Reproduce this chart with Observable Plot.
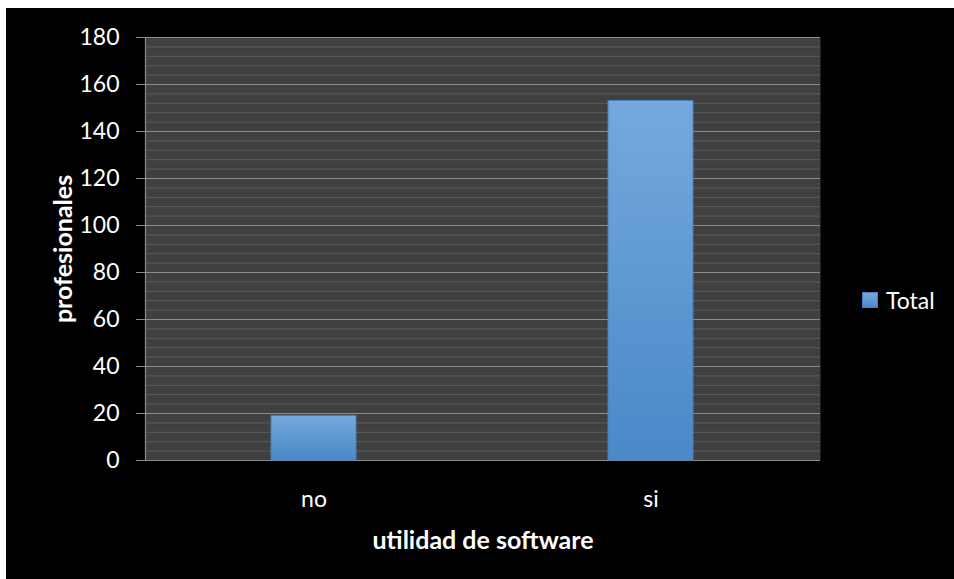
<!DOCTYPE html>
<html>
<head>
<meta charset="utf-8">
<script src="https://cdn.jsdelivr.net/npm/d3@7"></script>
<script src="https://cdn.jsdelivr.net/npm/@observablehq/plot@0.6"></script>
<style>
  html, body { margin: 0; padding: 0; background: #ffffff; }
  #panel {
    position: absolute; left: 6px; top: 8px; width: 948px; height: 571px;
    background: #000000; font-family: Lato, "Open Sans", sans-serif; color: #ffffff;
  }
  #chart { position: absolute; left: 0; top: 0; }
  #legend {
    position: absolute; left: 856px; top: 278px; display: flex; align-items: center;
    font-size: 23px; color: #ffffff;
  }
  #legend .swatch {
    width: 14px; height: 14px; margin-right: 8px;
    background: linear-gradient(#74a9dd, #4b89c9); border: 1px solid #4a7ebb;
  }
</style>
</head>
<body>
<div id="panel">
  <div id="chart"></div>
  <div id="legend"><span class="swatch"></span><span>Total</span></div>
</div>
<script>
// Respuestas: ¿le resulta útil el software?
const categories = ["no", "si"];
const totals = [19, 153];
const majorTicks = [0, 20, 40, 60, 80, 100, 120, 140, 160, 180];
const minorTicks = d3.range(0, 181, 4).filter(v => v % 20 !== 0);

const data = categories.map((c, i) => ({categoria: c, total: totals[i]}));

const chart = Plot.plot({
  width: 948,
  height: 571,
  marginLeft: 139,
  marginRight: 134,
  marginTop: 29,
  marginBottom: 119,
  style: {background: "transparent", color: "#ffffff", fontFamily: "Lato, 'Open Sans', sans-serif"},
  x: {domain: categories, paddingInner: 0.747, paddingOuter: 0.3735, label: null},
  y: {domain: [0, 180], label: null},
  marks: [
    Plot.frame({fill: "#404040", stroke: null}),
    Plot.ruleY(minorTicks, {stroke: "#5c5c5c", strokeWidth: 1}),
    Plot.ruleY(majorTicks, {stroke: "#8c8c8c", strokeWidth: 1.2}),
    Plot.frame({anchor: "left", stroke: "#8c8c8c", strokeWidth: 1.2}),
    Plot.barY(data, {
      x: "categoria", y: "total",
      fill: "url(#barGrad)", stroke: "#4a7ebb", strokeWidth: 1,
      style: {filter: "drop-shadow(0px 0px 3px rgba(0,0,0,0.55))"}
    }),
    Plot.axisY({
      ticks: majorTicks, tickSize: 9, tickPadding: 17,
      stroke: "#8c8c8c", fill: "#ffffff", fontSize: 23, label: null
    }),
    Plot.axisX({
      tickSize: 0, tickPadding: 30, fill: "#ffffff", fontSize: 23, label: null
    }),
    Plot.text(["utilidad de software"], {
      frameAnchor: "bottom", dy: 88, fill: "#ffffff",
      fontSize: 25, fontWeight: "bold"
    }),
    Plot.text(["profesionales"], {
      frameAnchor: "left", textAnchor: "middle", dx: -81.5, rotate: -90, fill: "#ffffff",
      fontSize: 25, fontWeight: "bold"
    })
  ]
});

// Vertical gradient for the bars
const defs = d3.create("svg:defs");
const grad = defs.append("linearGradient")
  .attr("id", "barGrad").attr("x1", 0).attr("y1", 0).attr("x2", 0).attr("y2", 1);
grad.append("stop").attr("offset", "0%").attr("stop-color", "#75a9dd");
grad.append("stop").attr("offset", "100%").attr("stop-color", "#4a88c8");
chart.insertBefore(defs.node(), chart.firstChild);

document.getElementById("chart").appendChild(chart);
</script>
</body>
</html>
